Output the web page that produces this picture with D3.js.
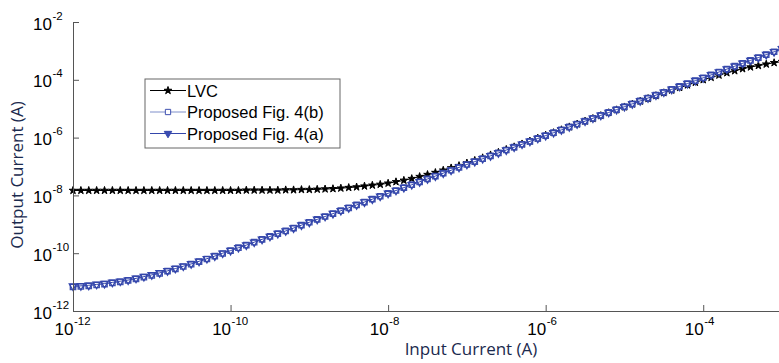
<!DOCTYPE html>
<html>
<head>
<meta charset="utf-8">
<script src="https://cdn.jsdelivr.net/npm/d3@7"></script>
<style>
  body { margin: 0; background: #fff; }
  svg { display: block; }
</style>
</head>
<body>
<svg id="chart" width="779" height="363"></svg>
<script>
// input current, log10 of amps
const inputExp = [
  -12.0,-11.9,-11.8,-11.7,-11.6,-11.5,-11.4,-11.3,-11.2,-11.1,
  -11.0,-10.9,-10.8,-10.7,-10.6,-10.5,-10.4,-10.3,-10.2,-10.1,
  -10.0,-9.9,-9.8,-9.7,-9.6,-9.5,-9.4,-9.3,-9.2,-9.1,
  -9.0,-8.9,-8.8,-8.7,-8.6,-8.5,-8.4,-8.3,-8.2,-8.1,
  -8.0,-7.9,-7.8,-7.7,-7.6,-7.5,-7.4,-7.3,-7.2,-7.1,
  -7.0,-6.9,-6.8,-6.7,-6.6,-6.5,-6.4,-6.3,-6.2,-6.1,
  -6.0,-5.9,-5.8,-5.7,-5.6,-5.5,-5.4,-5.3,-5.2,-5.1,
  -5.0,-4.9,-4.8,-4.7,-4.6,-4.5,-4.4,-4.3,-4.2,-4.1,
  -4.0,-3.9,-3.8,-3.7,-3.6,-3.5,-3.4,-3.3,-3.2,-3.1,
  -3.0
];

// output current, log10 of amps
const lvcExp = [
  -7.83,-7.83,-7.83,-7.83,-7.83,-7.83,-7.83,-7.83,-7.83,-7.83,
  -7.83,-7.83,-7.83,-7.83,-7.83,-7.83,-7.83,-7.83,-7.83,-7.83,
  -7.83,-7.83,-7.82,-7.82,-7.82,-7.82,-7.82,-7.81,-7.81,-7.80,
  -7.80,-7.79,-7.78,-7.77,-7.75,-7.73,-7.71,-7.68,-7.65,-7.62,
  -7.58,-7.53,-7.48,-7.42,-7.35,-7.28,-7.21,-7.13,-7.05,-6.97,
  -6.88,-6.79,-6.70,-6.60,-6.51,-6.41,-6.32,-6.22,-6.12,-6.02,
  -5.92,-5.83,-5.73,-5.63,-5.53,-5.43,-5.34,-5.24,-5.14,-5.04,
  -4.94,-4.84,-4.74,-4.65,-4.55,-4.45,-4.36,-4.27,-4.18,-4.09,
  -4.00,-3.92,-3.84,-3.76,-3.69,-3.62,-3.56,-3.51,-3.46,-3.41,
  -3.37
];

const fig4bExp = [
  -11.17,-11.15,-11.13,-11.10,-11.07,-11.03,-10.99,-10.94,-10.89,-10.83,
  -10.77,-10.70,-10.62,-10.54,-10.46,-10.38,-10.29,-10.20,-10.10,-10.01,
  -9.91,-9.81,-9.72,-9.62,-9.52,-9.42,-9.32,-9.23,-9.13,-9.03,
  -8.93,-8.83,-8.73,-8.63,-8.53,-8.43,-8.33,-8.23,-8.13,-8.03,
  -7.93,-7.83,-7.73,-7.63,-7.53,-7.43,-7.33,-7.23,-7.13,-7.03,
  -6.93,-6.83,-6.73,-6.63,-6.53,-6.43,-6.33,-6.23,-6.13,-6.03,
  -5.93,-5.83,-5.73,-5.63,-5.53,-5.43,-5.33,-5.23,-5.13,-5.03,
  -4.93,-4.83,-4.73,-4.63,-4.53,-4.43,-4.33,-4.23,-4.13,-4.03,
  -3.93,-3.83,-3.73,-3.63,-3.53,-3.43,-3.33,-3.23,-3.13,-3.03,
  -2.93
];

const fig4aExp = [
  -11.14,-11.13,-11.11,-11.08,-11.05,-11.01,-10.97,-10.93,-10.87,-10.81,
  -10.75,-10.68,-10.61,-10.53,-10.45,-10.37,-10.28,-10.19,-10.10,-10.00,
  -9.91,-9.81,-9.72,-9.62,-9.52,-9.42,-9.32,-9.23,-9.13,-9.03,
  -8.93,-8.83,-8.73,-8.63,-8.53,-8.43,-8.33,-8.23,-8.13,-8.03,
  -7.93,-7.83,-7.73,-7.63,-7.53,-7.43,-7.33,-7.23,-7.13,-7.03,
  -6.93,-6.83,-6.73,-6.63,-6.53,-6.43,-6.33,-6.23,-6.13,-6.03,
  -5.93,-5.83,-5.73,-5.63,-5.53,-5.43,-5.33,-5.23,-5.13,-5.03,
  -4.93,-4.83,-4.73,-4.63,-4.53,-4.43,-4.33,-4.23,-4.13,-4.03,
  -3.93,-3.83,-3.73,-3.63,-3.53,-3.43,-3.33,-3.23,-3.13,-3.03,
  -2.93
];

const seriesNames = ["LVC", "Proposed Fig. 4(b)", "Proposed Fig. 4(a)"];
const xTickExp = [-12, -10, -8, -6, -4];
const yTickExp = [-12, -10, -8, -6, -4, -2];
const xTitle = "Input Current (A)";
const yTitle = "Output Current (A)";

// plot area (the original figure is cut off on the right, just before 1e-3)
const plotLeft = 73, plotRight = 782, plotTop = 22, plotBottom = 311;

const svg = d3.select("#chart");
svg.append("rect").attr("width", 779).attr("height", 363).attr("fill", "#fff");

const x = d3.scaleLog().domain([1e-12, 1e-3]).range([plotLeft, plotRight]);
const y = d3.scaleLog().domain([1e-12, 1e-2]).range([plotBottom, plotTop]);

const axisColor = "#555";
const tickFont = "'Liberation Sans', Arial, sans-serif";

// series, drawn in the order of the original (LVC underneath)
const series = [
  { name: seriesNames[0], exps: lvcExp, line: "#000", stroke: "#000", fill: "#000", legFill: "#000", sym: d3.symbolStar, size: 18, rot: 0, sw: 1 },
  { name: seriesNames[1], exps: fig4bExp, line: "#7f8fca", stroke: "#3f51b0", fill: "#fff", legFill: "#fff", sym: d3.symbolSquare, size: 28, rot: 0, sw: 1.4 },
  { name: seriesNames[2], exps: fig4aExp, line: "#3446ab", stroke: "#3446ab", fill: "none", legFill: "#3a4cb2", sym: d3.symbolTriangle, size: 24, rot: 180, sw: 1.3 }
];

const plot = svg.append("g").attr("id", "plot");
const line = d3.line().x(d => x(d[0])).y(d => y(d[1]));

series.forEach(s => {
  const pts = inputExp.map((e, i) => [10 ** e, 10 ** s.exps[i]]);
  const g = plot.append("g");
  g.append("path")
    .attr("d", line(pts))
    .attr("fill", "none")
    .attr("stroke", s.line)
    .attr("stroke-width", 1);
  g.selectAll("path.mk")
    .data(pts)
    .enter()
    .append("path")
    .attr("class", "mk")
    .attr("d", d3.symbol().type(s.sym).size(s.size))
    .attr("transform", d => `translate(${x(d[0])},${y(d[1])}) rotate(${s.rot})`)
    .attr("fill", s.fill)
    .attr("stroke", s.stroke)
    .attr("stroke-width", s.sw);
});

// axes, ticks pointing inward
const xAxis = svg.append("g")
  .attr("transform", `translate(0,${plotBottom})`)
  .call(d3.axisBottom(x)
    .tickValues(xTickExp.map(e => 10 ** e))
    .tickSizeInner(-6).tickSizeOuter(0)
    .tickFormat(""));
const yAxis = svg.append("g")
  .attr("transform", `translate(${plotLeft},0)`)
  .call(d3.axisLeft(y)
    .tickValues(yTickExp.map(e => 10 ** e))
    .tickSizeInner(-6).tickSizeOuter(0)
    .tickFormat(""));
[xAxis, yAxis].forEach(a => {
  a.select(".domain").attr("stroke", axisColor);
  a.selectAll(".tick line").attr("stroke", axisColor);
});

// tick labels as 10 with superscript exponent
xAxis.selectAll(".tick").each(function (d) {
  const t = d3.select(this);
  const e = Math.round(Math.log10(d));
  t.append("text").attr("x", 0).attr("y", 24)
    .attr("text-anchor", "end").attr("fill", "#000")
    .style("font", `17px ${tickFont}`).text("10");
  t.append("text").attr("x", 0.5).attr("y", 14)
    .attr("text-anchor", "start").attr("fill", "#000")
    .style("font", `11.5px ${tickFont}`).text(e);
});
yAxis.selectAll(".tick").each(function (d) {
  const t = d3.select(this);
  const e = Math.round(Math.log10(d));
  t.append("text").attr("x", -21).attr("y", 7)
    .attr("text-anchor", "end").attr("fill", "#000")
    .style("font", `17px ${tickFont}`).text("10");
  t.append("text").attr("x", -20.5).attr("y", -3)
    .attr("text-anchor", "start").attr("fill", "#000")
    .style("font", `11.5px ${tickFont}`).text(e);
});

// axis titles
const titleColor = "#1b2a4e";
svg.append("text")
  .attr("x", 471).attr("y", 355)
  .attr("text-anchor", "middle")
  .attr("fill", titleColor)
  .style("font", "17px 'Open Sans', 'DejaVu Sans', sans-serif")
  .text(xTitle);
svg.append("text")
  .attr("transform", "translate(23,175) rotate(-90)")
  .attr("text-anchor", "middle")
  .attr("fill", titleColor)
  .style("font", "17px 'Open Sans', 'DejaVu Sans', sans-serif")
  .text(yTitle);

// legend
const legend = svg.append("g").attr("transform", "translate(145,79)");
legend.append("rect")
  .attr("width", 195).attr("height", 69)
  .attr("fill", "#fff").attr("stroke", "#666").attr("stroke-width", 1);
series.forEach((s, i) => {
  const ry = 11.5 + i * 21.5;
  legend.append("line")
    .attr("x1", 5).attr("x2", 41).attr("y1", ry).attr("y2", ry)
    .attr("stroke", s.line).attr("stroke-width", 1);
  legend.append("path")
    .attr("d", d3.symbol().type(s.sym).size(s.size))
    .attr("transform", `translate(23,${ry}) rotate(${s.rot})`)
    .attr("fill", s.legFill).attr("stroke", s.stroke).attr("stroke-width", 1);
  legend.append("text")
    .attr("x", 42).attr("y", ry + 6)
    .attr("fill", "#000")
    .style("font", `16.5px ${tickFont}`)
    .text(s.name);
});
</script>
</body>
</html>
